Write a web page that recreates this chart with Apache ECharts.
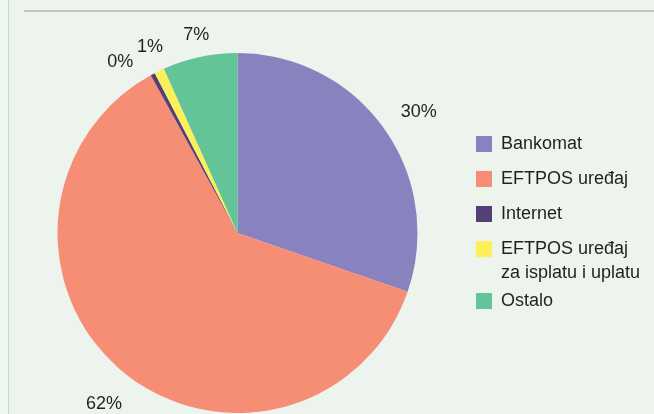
<!DOCTYPE html>
<html>
<head>
<meta charset="utf-8">
<style>
  html, body { margin: 0; padding: 0; background: #edf3ed; }
  #chart { width: 654px; height: 414px; }
</style>
<script src="https://cdn.jsdelivr.net/npm/echarts@6/dist/echarts.min.js"></script>
</head>
<body>
<div id="chart"></div>
<script>
// podaci
const categories = ["Bankomat", "EFTPOS uređaj", "Internet", "EFTPOS uređaj\nza isplatu i uplatu", "Ostalo"];
const shares = [30.3, 61.7, 0.4, 0.9, 6.7];
const colors = ["#8882be", "#f68e76", "#553f78", "#fbef5a", "#63c497"];

// label placement per slice (labelLine length, distance to line)
const labelTweaks = [
  { len: 29, dist: -7 },
  { len: 44, dist: -29 },
  { len: 14, dist: 13 },
  { len: 26, dist: -15 },
  { len: 22, dist: -14 },
];

const chart = echarts.init(document.getElementById("chart"));
const font = "Liberation Sans, Arial, sans-serif";
const textColor = "#231f20";

const seriesData = categories.map((name, i) => ({
  name: name,
  value: shares[i],
  itemStyle: { color: colors[i] },
  label: { distanceToLabelLine: labelTweaks[i].dist },
  labelLine: { length: labelTweaks[i].len, length2: 0 },
}));

const legendText = {
  color: textColor,
  fontSize: 18,
  fontFamily: font,
  lineHeight: 22,
  padding: [0, 0, 0, 4],
};

const option = {
  backgroundColor: "#edf3ed",
  animation: false,
  legend: [
    {
      orient: "vertical",
      left: 476,
      top: 133,
      padding: 0,
      itemWidth: 16,
      itemHeight: 16,
      itemGap: 13,
      icon: "rect",
      selectedMode: false,
      data: categories.slice(0, 4),
      formatter: (name) => name.split("\n")[0],
      textStyle: legendText,
    },
    {
      orient: "vertical",
      left: 476,
      top: 290,
      padding: 0,
      itemWidth: 16,
      itemHeight: 16,
      icon: "rect",
      selectedMode: false,
      data: categories.slice(4),
      textStyle: legendText,
    },
  ],
  graphic: [
    { type: "rect", left: 0, top: 0, shape: { width: 8, height: 414 }, style: { fill: "#f1f6f1" }, silent: true },
    { type: "line", shape: { x1: 8.5, y1: 0, x2: 8.5, y2: 414 }, style: { stroke: "#bcdcc4", lineWidth: 1 }, silent: true },
    { type: "line", shape: { x1: 24, y1: 11, x2: 654, y2: 11 }, style: { stroke: "#b2b6b0", lineWidth: 1.5 }, silent: true },
    {
      type: "text",
      x: 501,
      y: 273,
      silent: true,
      style: {
        text: "za isplatu i uplatu",
        fill: textColor,
        font: "18px " + font,
        verticalAlign: "middle",
      },
    },
  ],
  series: [
    {
      type: "pie",
      center: [237.5, 233],
      radius: 180,
      startAngle: 90,
      clockwise: true,
      avoidLabelOverlap: false,
      silent: true,
      itemStyle: { borderWidth: 0 },
      emphasis: { disabled: true },
      label: {
        show: true,
        position: "outside",
        color: textColor,
        fontSize: 18,
        fontFamily: font,
        formatter: (p) => Math.round(p.value) + "%",
      },
      labelLine: { show: false },
      data: seriesData,
    },
  ],
};

chart.setOption(option);
</script>
</body>
</html>
